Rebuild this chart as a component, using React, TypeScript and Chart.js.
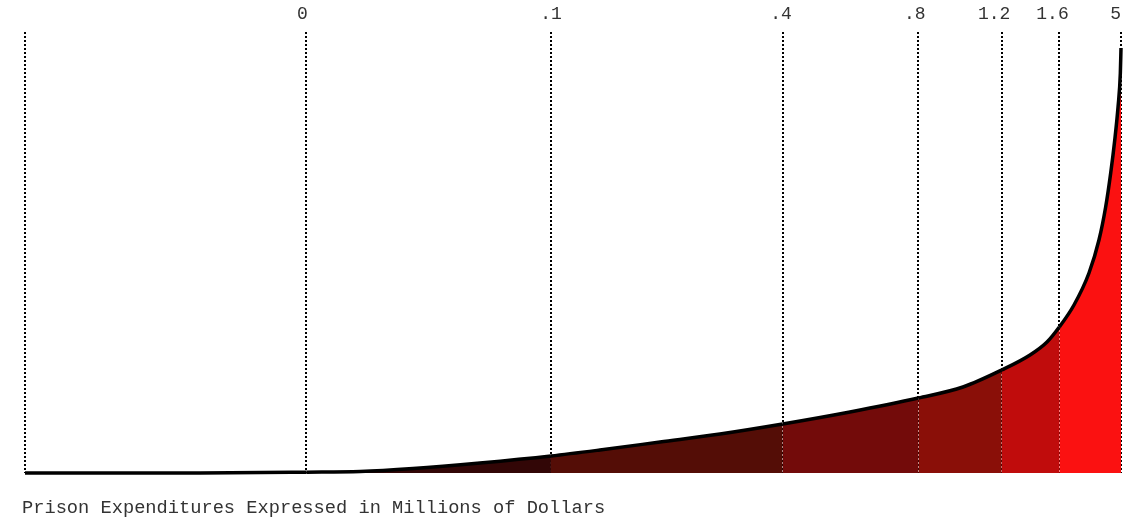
import React, { useEffect, useRef } from "react";
import { Chart, registerables } from "chart.js";

Chart.register(...registerables);

// Position along the ranked distribution (percent of units, sorted by spending)
const rankPct = [
  0, 15.97, 25.68, 30.57, 35.4, 41.51, 47.99, 52.46, 57.94, 63.41, 69.13, 75.27,
  81.51, 85.58, 89.12, 91.7, 93.25, 94.37, 95.71, 97.08, 97.99, 98.6, 99.06, 99.43,
  99.73, 99.94, 100,
];
// Relative spending height of the curve at each rank position
const spending = [
  0, 0, 0.8, 1.5, 4.5, 10, 17, 23, 31, 39, 49, 61,
  75, 86, 103, 118, 131, 146, 168, 200, 233, 266, 300, 333,
  366, 400, 425,
];
// Rank positions of the threshold lines (millions of dollars)
const thresholdPct = [0, 25.68, 47.99, 69.13, 81.51, 89.12, 94.37, 100];
// Threshold labels and where each label sits along the axis
const thresholdLabels = ["0", ".1", ".4", ".8", "1.2", "1.6", "5"];
const labelPct = [25.32, 47.99, 68.98, 81.18, 88.43, 93.75, 99.52];
// Fill colour of each band between consecutive thresholds
const bandColors = ["#000000", "#320606", "#540d06", "#730b0a", "#8a0f08", "#c00c0c", "#fb1111"];

const MONO = "'Liberation Mono', 'Courier New', monospace";

function bandColor(x: number): string {
  for (let i = 0; i < thresholdPct.length - 1; i++) {
    if (x >= thresholdPct[i] - 1e-6 && x < thresholdPct[i + 1] - 1e-6) return bandColors[i];
  }
  return bandColors[bandColors.length - 1];
}

export default function App() {
  const canvasRef = useRef<HTMLCanvasElement | null>(null);

  useEffect(() => {
    if (!canvasRef.current) return;
    const chart = new Chart(canvasRef.current, {
      type: "line",
      data: {
        datasets: [
          {
            data: rankPct.map((x, i) => ({ x, y: spending[i] })),
            xAxisID: "x",
            yAxisID: "y",
            borderColor: "#000000",
            borderWidth: 3.5,
            pointRadius: 0,
            pointHoverRadius: 0,
            pointHitRadius: 0,
            cubicInterpolationMode: "monotone",
            fill: "origin",
            clip: false,
            backgroundColor: "#000000",
            segment: {
              backgroundColor: (ctx: any) => bandColor(ctx.p0.parsed.x),
            },
          } as any,
        ],
      },
      options: {
        animation: false,
        responsive: true,
        maintainAspectRatio: false,
        events: [],
        layout: { autoPadding: false, padding: { left: 25, right: 13, top: 0, bottom: 45 } },
        plugins: {
          legend: { display: false },
          tooltip: { enabled: false },
          title: { display: false },
        },
        scales: {
          x: {
            type: "linear",
            position: "top",
            min: 0,
            max: 100,
            afterBuildTicks: (scale: any) => {
              scale.ticks = thresholdPct.map((v) => ({ value: v }));
            },
            afterFit: (scale: any) => {
              scale.height = 0;
            },
            ticks: { display: false },
            grid: {
              color: "#000000",
              lineWidth: 2,
              drawTicks: false,
            },
            border: { display: false, dash: [2, 2] },
          },
          xLabels: {
            type: "linear",
            position: "top",
            min: 0,
            max: 100,
            afterBuildTicks: (scale: any) => {
              scale.ticks = labelPct.map((v) => ({ value: v }));
            },
            afterFit: (scale: any) => {
              scale.height = 32;
            },
            ticks: {
              autoSkip: false,
              maxRotation: 0,
              padding: 7,
              color: "#333333",
              font: { family: MONO, size: 18 },
              callback: (_v: any, i: number) => thresholdLabels[i] ?? "",
            },
            grid: { display: false, drawTicks: false },
            border: { display: false },
          },
          y: {
            display: false,
            min: 0,
            max: 441,
          },
        },
      } as any,
    });
    return () => chart.destroy();
  }, []);

  return (
    <div style={{ position: "absolute", left: 0, top: 0, width: 1134, height: 518 }}>
      <canvas ref={canvasRef} />
      <div
        style={{
          position: "absolute",
          left: 22,
          top: 499,
          fontFamily: MONO,
          fontSize: 18.7,
          lineHeight: 1,
          color: "#333333",
          whiteSpace: "nowrap",
        }}
      >
        Prison Expenditures Expressed in Millions of Dollars
      </div>
    </div>
  );
}
